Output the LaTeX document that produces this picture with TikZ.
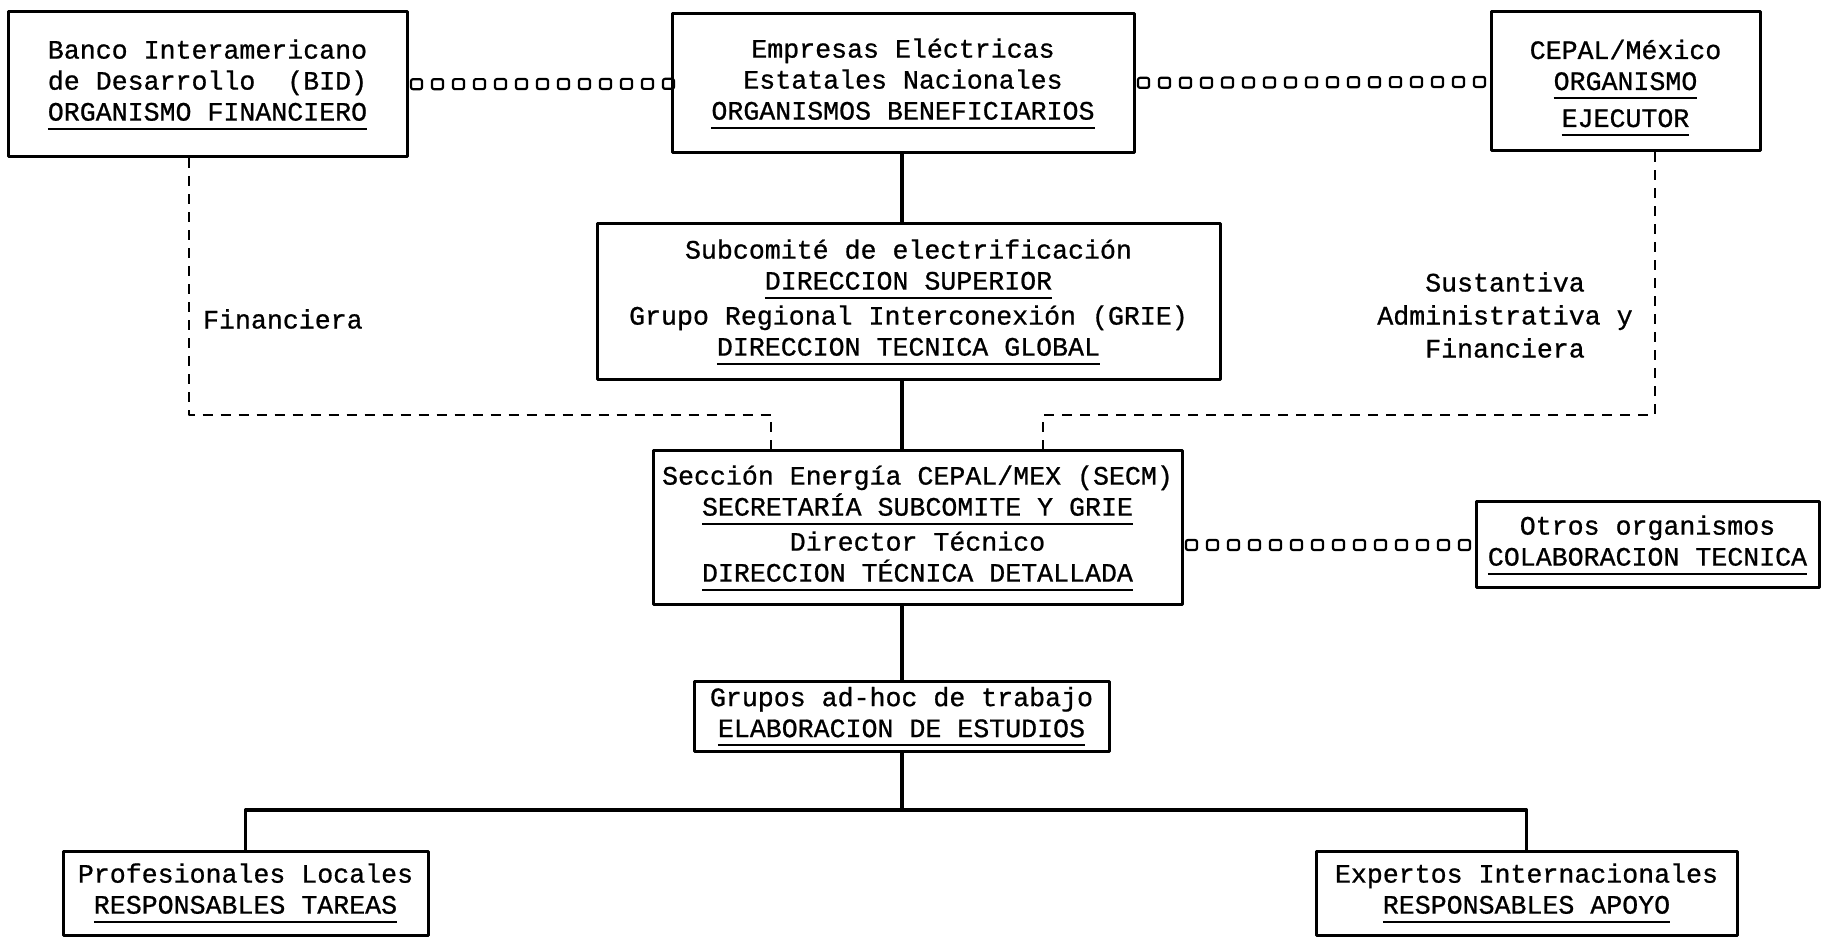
\documentclass[tikz,border=0pt]{standalone}
\usepackage{fontspec}
\setmonofont{Liberation Mono}[FakeBold=0.8]
\usetikzlibrary{decorations.markings}
\newsavebox{\ulbox}
\newcommand{\subr}[1]{\sbox{\ulbox}{#1}\rlap{\rule[-4.5pt]{\wd\ulbox}{1pt}}\usebox{\ulbox}}
\begin{document}
\begin{tikzpicture}[x=0.5pt,y=-0.5pt,line join=round,font=\ttfamily\fontsize{13.3}{15.5}\selectfont,
	caja/.style 2 args={draw,line width=1.5pt,align=center,inner sep=2pt,minimum width=#1,minimum height=#2},
	enlace/.style={line width=1.6pt},
	control/.style={line width=1.1pt,dash pattern=on 5pt off 4pt},
	cadena/.style={decoration={markings,mark=between positions 4pt and 1 step 10.5pt with {\node[draw,line width=1.1pt,minimum width=5.5pt,minimum height=5pt,inner sep=0pt,rounded corners=1pt]{};}},postaction={decorate}}]
	\useasboundingbox (0,0) rectangle (1821,940);
	\node[caja={199.5pt}{72.5pt}] (bid) at (207.5,84.5) {Banco Interamericano\\de Desarrollo\ \ (BID)\\\subr{ORGANISMO FINANCIERO}};
	\node[caja={231pt}{69.5pt}] (emp) at (903,83.5) {Empresas Eléctricas\\Estatales Nacionales\\\subr{ORGANISMOS BENEFICIARIOS}};
	\node[caja={134.5pt}{69.5pt}] (cep) at (1625.5,81.5) {\rule{0pt}{16pt}CEPAL/México\\\subr{ORGANISMO}\\[3pt]\subr{EJECUTOR}};
	\node[caja={311.5pt}{78pt}] (sub) at (908.5,302) {Subcomité de electrificación\\\subr{DIRECCION SUPERIOR}\\[2pt]Grupo Regional Interconexión (GRIE)\\\subr{DIRECCION TECNICA GLOBAL}};
	\node[caja={264.5pt}{77pt}] (sec) at (917.5,528) {Sección Energía CEPAL/MEX (SECM)\\\subr{SECRETARÍA SUBCOMITE Y GRIE}\\[2pt]Director Técnico\\\subr{DIRECCION TÉCNICA DETALLADA}};
	\node[caja={171.5pt}{43pt}] (otr) at (1647.5,545) {Otros organismos\\\subr{COLABORACION TECNICA}};
	\node[caja={207.5pt}{34.5pt}] (gru) at (901.5,716.5) {Grupos ad-hoc de trabajo\\\subr{ELABORACION DE ESTUDIOS}};
	\node[caja={182.5pt}{42pt}] (pro) at (245.5,893) {Profesionales Locales\\\subr{RESPONSABLES TAREAS}};
	\node[caja={210.5pt}{42pt}] (exp) at (1526.5,893) {Expertos Internacionales\\\subr{RESPONSABLES APOYO}};
	\node[anchor=west] (lfin) at (196,319) {Financiera};
	\node[align=center] (lsus) at (1505,315) {Sustantiva\\[1pt]Administrativa y\\[1pt]Financiera};
	\coordinate (tronco) at (902,0);
	\coordinate (barra) at (902,810);
	\coordinate (fizq) at (189,415);
	\coordinate (fmed) at (771,415);
	\coordinate (fder) at (1655,415);
	\coordinate (fsec) at (1043,415);
	\draw[enlace] (emp.south -| tronco) -- (sub.north -| tronco);
	\draw[enlace] (sub.south -| tronco) -- (sec.north -| tronco);
	\draw[enlace] (sec.south -| tronco) -- (gru.north -| tronco);
	\draw[enlace] (gru.south -| tronco) -- (barra);
	\draw[enlace] (pro.north) |- (barra) -| (exp.north);
	\draw[control] (bid.south -| fizq) |- (fmed) -- (sec.north -| fmed);
	\draw[control] (cep.south -| fder) |- (fsec) -- (sec.north -| fsec);
	\path[cadena] (bid) -- (emp);
	\path[cadena] (emp) -- (cep);
	\path[cadena] (otr.west -| sec.east) -- (otr.west);
\end{tikzpicture}
\end{document}
